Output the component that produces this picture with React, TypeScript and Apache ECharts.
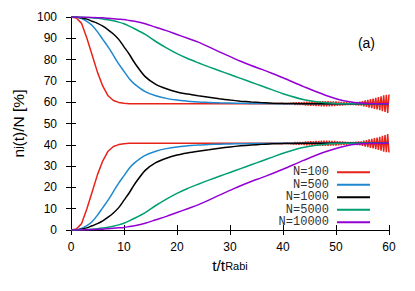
import React, { useEffect, useRef } from "react";
import * as echarts from "echarts";

// time samples (t / t_Rabi)
const tS = [0, 1, 2, 3, 4, 5, 6, 7, 8, 9, 10, 11, 12, 14, 16, 18, 20, 22, 24, 26, 28, 30, 32, 34, 36, 38, 40, 44, 48, 52, 56, 60];

// oscillation region time samples for N=100
const tOsc = [
  40, 40.25, 40.5, 40.75, 41, 41.25, 41.5, 41.75, 42, 42.25, 42.5, 42.75, 43, 43.25, 43.5, 43.75,
  44, 44.25, 44.5, 44.75, 45, 45.25, 45.5, 45.75, 46, 46.25, 46.5, 46.75, 47, 47.25, 47.5, 47.75,
  48, 48.25, 48.5, 48.75, 49, 49.25, 49.5, 49.75, 50, 50.25, 50.5, 50.75, 51, 51.25, 51.5, 51.75,
  52, 52.25, 52.5, 52.75, 53, 53.25, 53.5, 53.75, 54, 54.25, 54.5, 54.75, 55, 55.25, 55.5, 55.75,
  56, 56.25, 56.5, 56.75, 57, 57.25, 57.5, 57.75, 58, 58.25, 58.5, 58.75, 59, 59.25, 59.5, 59.75, 60,
];

// N=100 (values for tS up to 38, then oscillation)
const n100UpperMain = [100, 99.5, 97, 90, 82, 74, 67.5, 63, 60.8, 59.9, 59.5, 59.3, 59.3, 59.3, 59.3, 59.3, 59.3, 59.3, 59.3, 59.3, 59.3, 59.3, 59.3, 59.3, 59.3, 59.3];
const n100LowerMain = [0, 0.5, 3, 10, 18, 26, 32.5, 37, 39.2, 40.1, 40.5, 40.7, 40.7, 40.7, 40.7, 40.7, 40.7, 40.7, 40.7, 40.7, 40.7, 40.7, 40.7, 40.7, 40.7, 40.7];
const n100UpperOsc = [
  59.5, 59.1, 59.5, 59.1, 59.5, 59.1, 59.6, 59.0,
  59.8, 58.8, 59.8, 58.8, 59.9, 58.7, 59.9, 58.7,
  60.1, 58.5, 60.2, 58.4, 60.2, 58.3, 60.3, 58.3, 60.3, 58.2, 60.4, 58.2,
  60.4, 58.1, 60.5, 58.1, 60.5, 58.1, 60.5, 58.1, 60.4, 58.2, 60.4, 58.2, 60.3, 58.3, 60.2, 58.4,
  60.1, 58.5, 60.0, 58.6, 59.9, 58.7, 59.8, 58.8,
  59.9, 58.7, 60.0, 58.6, 60.1, 58.5, 60.2, 58.4,
  60.5, 58.1, 60.8, 57.8, 61.1, 57.5, 61.4, 57.2,
  61.7, 56.9, 62.0, 56.6, 62.4, 56.2, 62.8, 55.8,
  63.2, 55.4, 63.5, 55.0, 63.6,
];
const n100LowerOsc = [
  40.5, 40.9, 40.5, 40.9, 40.5, 40.9, 40.4, 41.0,
  40.2, 41.2, 40.2, 41.2, 40.1, 41.3, 40.1, 41.3,
  39.9, 41.5, 39.8, 41.6, 39.8, 41.7, 39.7, 41.7, 39.7, 41.8, 39.6, 41.8,
  39.6, 41.9, 39.5, 41.9, 39.5, 41.9, 39.5, 41.9, 39.6, 41.8, 39.6, 41.8, 39.7, 41.7, 39.8, 41.6,
  39.9, 41.5, 40.0, 41.4, 40.1, 41.3, 40.2, 41.2,
  40.1, 41.3, 40.0, 41.4, 39.9, 41.5, 39.8, 41.6,
  39.5, 41.9, 39.2, 42.2, 38.9, 42.5, 38.6, 42.8,
  38.3, 43.1, 38.0, 43.4, 37.6, 43.8, 37.2, 44.2,
  36.8, 44.6, 36.5, 45.0, 36.4,
];

// N=500
const n500Upper = [100, 99.9, 99.3, 98, 96, 93, 89.5, 86, 82, 78, 74.5, 71, 68.5, 65, 63, 61.8, 61, 60.5, 60.1, 59.9, 59.7, 59.6, 59.5, 59.4, 59.4, 59.3, 59.3, 59.3, 59.3, 59.3, 59.3, 59.3];
const n500Lower = [0, 0.1, 0.7, 2, 4, 7, 10.5, 14, 18, 22, 25.5, 29, 31.5, 35, 37, 38.2, 39, 39.5, 39.9, 40.1, 40.3, 40.4, 40.5, 40.6, 40.6, 40.7, 40.7, 40.7, 40.7, 40.7, 40.7, 40.7];

// N=1000
const n1000Upper = [100, 100, 99.6, 99, 98, 97, 95.7, 94, 92, 89.5, 86, 82.5, 78.5, 72, 68.4, 66.3, 64.8, 63.8, 63, 62.3, 61.6, 61, 60.5, 60.1, 59.8, 59.5, 59.4, 59.3, 59.3, 59.3, 59.3, 59.3];
const n1000Lower = [0, 0, 0.4, 1, 2, 3, 4.3, 6, 8, 10.5, 14, 17.5, 21.5, 28, 31.6, 33.7, 35.2, 36.2, 37, 37.7, 38.4, 39, 39.5, 39.9, 40.2, 40.5, 40.6, 40.7, 40.7, 40.7, 40.7, 40.7];

// N=5000
const n5000Upper = [100, 100, 99.9, 99.8, 99.6, 99.4, 99.1, 98.7, 98.2, 97.6, 96.8, 95.7, 94.5, 91.8, 88.5, 85.5, 82.8, 80.5, 78.5, 76.6, 74.8, 73, 71.2, 69.4, 67.6, 65.8, 64, 61.2, 59.7, 59.3, 59.3, 59.3];
const n5000Lower = [0, 0, 0.1, 0.2, 0.4, 0.6, 0.9, 1.3, 1.8, 2.4, 3.2, 4.3, 5.5, 8.2, 11.5, 14.5, 17.2, 19.5, 21.5, 23.4, 25.2, 27, 28.8, 30.6, 32.4, 34.2, 36, 38.8, 40.3, 40.7, 40.7, 40.7];

// N=10000
const n10000Upper = [100, 100, 100, 99.9, 99.8, 99.7, 99.6, 99.4, 99.2, 99, 98.8, 98.4, 98, 96.8, 95.2, 93.6, 91.8, 90, 88.2, 86, 83.6, 81.4, 79.2, 77.2, 75.4, 73.5, 71.5, 67.2, 63.3, 60.4, 59.4, 59.3];
const n10000Lower = [0, 0, 0, 0.1, 0.2, 0.3, 0.4, 0.6, 0.8, 1, 1.2, 1.6, 2, 3.2, 4.8, 6.4, 8.2, 10, 11.8, 14, 16.4, 18.6, 20.8, 22.8, 24.6, 26.5, 28.5, 32.8, 36.7, 39.6, 40.6, 40.7];

const seriesNames = ["N=100", "N=500", "N=1000", "N=5000", "N=10000"];
const seriesColors = ["#e8231a", "#1e88d0", "#000000", "#009e73", "#9400d3"];

const xTicksMin = 0;
const xTicksMax = 60;
const yTicksMin = 0;
const yTicksMax = 100;

function pairs(ts: number[], vs: number[]): number[][] {
  return vs.map((v, i) => [ts[i], v]);
}

export default function App() {
  const ref = useRef<HTMLDivElement>(null);

  useEffect(() => {
    const chart = echarts.init(ref.current!, null, { renderer: "svg" });

    const redUpper = pairs(tS, n100UpperMain).concat(pairs(tOsc, n100UpperOsc));
    const redLower = pairs(tS, n100LowerMain).concat(pairs(tOsc, n100LowerOsc));

    const curves: { name: string; color: string; data: number[][]; smooth: boolean }[] = [
      { name: seriesNames[0], color: seriesColors[0], data: redUpper, smooth: false },
      { name: seriesNames[0], color: seriesColors[0], data: redLower, smooth: false },
      { name: seriesNames[1], color: seriesColors[1], data: pairs(tS, n500Upper), smooth: true },
      { name: seriesNames[1], color: seriesColors[1], data: pairs(tS, n500Lower), smooth: true },
      { name: seriesNames[2], color: seriesColors[2], data: pairs(tS, n1000Upper), smooth: true },
      { name: seriesNames[2], color: seriesColors[2], data: pairs(tS, n1000Lower), smooth: true },
      { name: seriesNames[3], color: seriesColors[3], data: pairs(tS, n5000Upper), smooth: true },
      { name: seriesNames[3], color: seriesColors[3], data: pairs(tS, n5000Lower), smooth: true },
      { name: seriesNames[4], color: seriesColors[4], data: pairs(tS, n10000Upper), smooth: true },
      { name: seriesNames[4], color: seriesColors[4], data: pairs(tS, n10000Lower), smooth: true },
    ];

    const font = "Liberation Sans";
    const axisLine = { show: true, lineStyle: { color: "#000", width: 1 } };
    const nameRich = {
      n: { fontFamily: font, fontSize: 15.5, color: "#000", lineHeight: 20 },
      sub: { fontFamily: font, fontSize: 11, color: "#000", lineHeight: 8 },
    };

    chart.setOption({
      animation: false,
      backgroundColor: "#fff",
      title: {
        text: "(a)",
        right: 35,
        top: 31,
        textStyle: { fontFamily: font, fontSize: 14, fontWeight: "normal", color: "#000" },
      },
      grid: { left: 71, right: 26, top: 17, bottom: 61, containLabel: false },
      legend: {
        orient: "vertical",
        align: "right",
        right: 40,
        top: 161,
        itemWidth: 33,
        itemHeight: 2,
        itemGap: 0,
        icon: "rect",
        data: seriesNames,
        textStyle: {
          fontFamily: "Liberation Mono",
          fontSize: 12,
          color: "#333",
          lineHeight: 12.5,
          padding: [0, 3, 0, 0],
        },
      },
      xAxis: [
        {
          type: "value",
          min: xTicksMin,
          max: xTicksMax,
          interval: 10,
          position: "bottom",
          axisLine,
          axisTick: { show: true, inside: true, length: 5, lineStyle: { color: "#000" } },
          axisLabel: { fontFamily: font, fontSize: 12, color: "#000", margin: 11 },
          splitLine: { show: false },
          name: "{n|t/t}{sub|Rabi}",
          nameLocation: "middle",
          nameGap: 18,
          nameTextStyle: { color: "#000", rich: nameRich },
        },
        {
          type: "value",
          min: xTicksMin,
          max: xTicksMax,
          interval: 10,
          position: "top",
          axisLine,
          axisTick: { show: true, inside: true, length: 5, lineStyle: { color: "#000" } },
          axisLabel: { show: false },
          splitLine: { show: false },
        },
      ],
      yAxis: [
        {
          type: "value",
          min: yTicksMin,
          max: yTicksMax,
          interval: 10,
          position: "left",
          axisLine,
          axisTick: { show: true, inside: true, length: 5, lineStyle: { color: "#000" } },
          axisLabel: { fontFamily: font, fontSize: 12, color: "#000", margin: 14 },
          splitLine: { show: false },
          name: "{n|n}{sub|j}{n|(t)/N [%]}",
          nameLocation: "middle",
          nameGap: 40,
          nameTextStyle: { color: "#000", rich: nameRich },
        },
        {
          type: "value",
          min: yTicksMin,
          max: yTicksMax,
          interval: 10,
          position: "right",
          axisLine,
          axisTick: { show: true, inside: true, length: 5, lineStyle: { color: "#000" } },
          axisLabel: { show: false },
          splitLine: { show: false },
        },
      ],
      series: curves.map((c) => ({
        type: "line",
        name: c.name,
        data: c.data,
        xAxisIndex: 0,
        yAxisIndex: 0,
        showSymbol: false,
        symbol: "none",
        smooth: c.smooth ? 0.3 : false,
        color: c.color,
        itemStyle: { color: c.color },
        lineStyle: { color: c.color, width: 1.5 },
      })),
    });

    return () => chart.dispose();
  }, []);

  return (
    <div
      ref={ref}
      style={{ position: "fixed", left: 0, top: 0, width: 415, height: 291, background: "#fff" }}
    />
  );
}
